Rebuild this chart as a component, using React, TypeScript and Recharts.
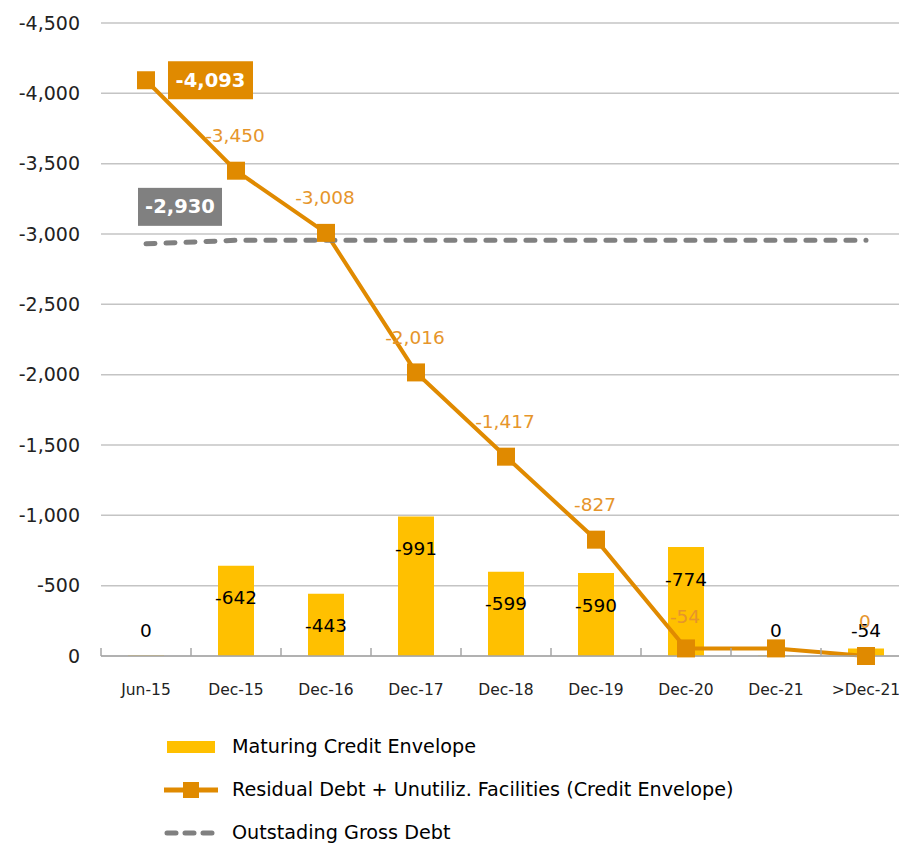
import React from 'react';
import { ComposedChart, Bar, Line, XAxis, YAxis, CartesianGrid, Legend, LabelList } from 'recharts';

// values (credit envelope, negative = outstanding)
const categories = ['Jun-15', 'Dec-15', 'Dec-16', 'Dec-17', 'Dec-18', 'Dec-19', 'Dec-20', 'Dec-21', '>Dec-21'];
const maturing = [0, -642, -443, -991, -599, -590, -774, 0, -54];
const residual = [-4093, -3450, -3008, -2016, -1417, -827, -54, -54, 0];
const grossDebt = [-2930, -2955, -2955, -2955, -2955, -2955, -2955, -2955, -2955];
const yTicks = [-4500, -4000, -3500, -3000, -2500, -2000, -1500, -1000, -500, 0];

const seriesNames = [
  'Maturing Credit Envelope',
  'Residual Debt + Unutiliz. Facilities (Credit Envelope)',
  'Outstading Gross Debt',
];

const data = categories.map((c, i) => ({
  cat: c,
  maturing: maturing[i],
  residual: residual[i],
  gross: grossDebt[i],
}));

const FONT = "'DejaVu Sans', sans-serif";
const YELLOW = '#FFC000';
const ORANGE = '#E08A00';
const ORANGE_TXT = '#E6952B';
const GREY = '#808080';

const fmt = (v: number) => (Math.round(v) || 0).toLocaleString('en-US');

const XTick = (props: any) => {
  const { x, y, payload } = props;
  const half = payload && payload.offset ? payload.offset : 45;
  return (
    <g>
      <line x1={x - half} x2={x - half} y1={y} y2={y - 8} stroke="#a6a6a6" strokeWidth={1.5} />
      <text x={x} y={y + 34} textAnchor="middle" dominantBaseline="central" fontSize={15.5} fill="#222" fontFamily={FONT}>
        {payload.value}
      </text>
    </g>
  );
};

const BarLabel = (props: any) => {
  const { x, y, width, height, value } = props;
  const top = Math.min(y, y + height);
  const base = Math.max(y, y + height);
  const ly = Math.min(top + 32, base - 26);
  return (
    <text x={x + width / 2} y={ly} textAnchor="middle" dominantBaseline="central" fontSize={18.5} fill="#000" fontFamily={FONT}>
      {fmt(value)}
    </text>
  );
};

const ResidualLabel = (props: any) => {
  const { x, y, value, index } = props;
  if (index === 7) return null;
  if (index === 0) {
    return (
      <g>
        <rect x={x + 22} y={y - 19} width={85} height={38} fill={ORANGE} />
        <text x={x + 64.5} y={y} textAnchor="middle" dominantBaseline="central" fontSize={19.5} fontWeight="bold" fill="#fff" fontFamily={FONT}>
          {fmt(value)}
        </text>
      </g>
    );
  }
  const dy = index === 6 ? -32 : -35;
  return (
    <text x={x - 1} y={y + dy} textAnchor="middle" dominantBaseline="central" fontSize={18.5} fill={ORANGE_TXT} fontFamily={FONT}>
      {fmt(value)}
    </text>
  );
};

const GrossLabel = (props: any) => {
  const { x, y, value, index } = props;
  if (index !== 0) return null;
  return (
    <g>
      <rect x={x - 8} y={y - 56} width={84} height={38} fill={GREY} />
      <text x={x + 34} y={y - 37} textAnchor="middle" dominantBaseline="central" fontSize={19.5} fontWeight="bold" fill="#fff" fontFamily={FONT}>
        {fmt(value)}
      </text>
    </g>
  );
};

const SquareDot = (props: any) => {
  const { cx, cy, index } = props;
  return <rect key={`sq-${index}`} x={cx - 9} y={cy - 9} width={18} height={18} fill={ORANGE} />;
};

const renderLegend = () => (
  <div style={{ height: 150, paddingTop: 29, boxSizing: 'border-box', fontFamily: FONT, fontSize: 19.2, color: '#000' }}>
    <div style={{ height: 43, display: 'flex', alignItems: 'center' }}>
      <svg width={232} height={20} style={{ flex: 'none' }}>
        <rect x={167} y={4} width={48} height={12} fill={YELLOW} />
      </svg>
      <span>{seriesNames[0]}</span>
    </div>
    <div style={{ height: 43, display: 'flex', alignItems: 'center' }}>
      <svg width={232} height={20} style={{ flex: 'none' }}>
        <line x1={164} x2={218} y1={10} y2={10} stroke={ORANGE} strokeWidth={5} />
        <rect x={183} y={2} width={16} height={16} fill={ORANGE} />
      </svg>
      <span>{seriesNames[1]}</span>
    </div>
    <div style={{ height: 43, display: 'flex', alignItems: 'center' }}>
      <svg width={232} height={20} style={{ flex: 'none' }}>
        <line x1={167} x2={212} y1={10} y2={10} stroke={GREY} strokeWidth={5} strokeDasharray="9 9" strokeLinecap="round" />
      </svg>
      <span>{seriesNames[2]}</span>
    </div>
  </div>
);

export default function App() {
  return (
    <div style={{ position: 'fixed', left: 0, top: 0, width: 899, height: 846, overflow: 'hidden', background: '#fff' }}>
      <ComposedChart
        width={911}
        height={846}
        data={data}
        margin={{ top: 23, right: 0, bottom: 0, left: 0 }}
        style={{ fontFamily: FONT }}
      >
        <CartesianGrid vertical={false} stroke="#c4c4c4" strokeWidth={1.5} />
        <XAxis
          dataKey="cat"
          height={40}
          tickSize={0}
          tickMargin={0}
          tickLine={false}
          axisLine={{ stroke: '#a6a6a6', strokeWidth: 1.5 }}
          tick={<XTick />}
          interval={0}
        />
        <YAxis
          width={101}
          reversed
          domain={[-4500, 0]}
          ticks={yTicks}
          tickFormatter={fmt}
          axisLine={false}
          tickLine={false}
          tickSize={0}
          tickMargin={21}
          tick={{ fontSize: 19, fill: '#222', fontFamily: FONT }}
        />
        <Legend verticalAlign="bottom" align="left" content={renderLegend} />
        <Bar
          dataKey="maturing"
          name={seriesNames[0]}
          fill={YELLOW}
          barSize={36}
          minPointSize={(v: number) => (v === 0 ? 0.5 : 0)}
          isAnimationActive={false}
        >
          <LabelList dataKey="maturing" content={<BarLabel />} />
        </Bar>
        <Line
          dataKey="residual"
          name={seriesNames[1]}
          type="linear"
          stroke={ORANGE}
          strokeWidth={4}
          dot={SquareDot}
          activeDot={false}
          isAnimationActive={false}
        >
          <LabelList dataKey="residual" content={<ResidualLabel />} zIndex={2000} />
        </Line>
        <Line
          dataKey="gross"
          name={seriesNames[2]}
          type="linear"
          stroke={GREY}
          strokeWidth={5}
          strokeDasharray="9 11"
          strokeLinecap="round"
          dot={false}
          activeDot={false}
          isAnimationActive={false}
        >
          <LabelList dataKey="gross" content={<GrossLabel />} zIndex={2000} />
        </Line>
      </ComposedChart>
    </div>
  );
}
